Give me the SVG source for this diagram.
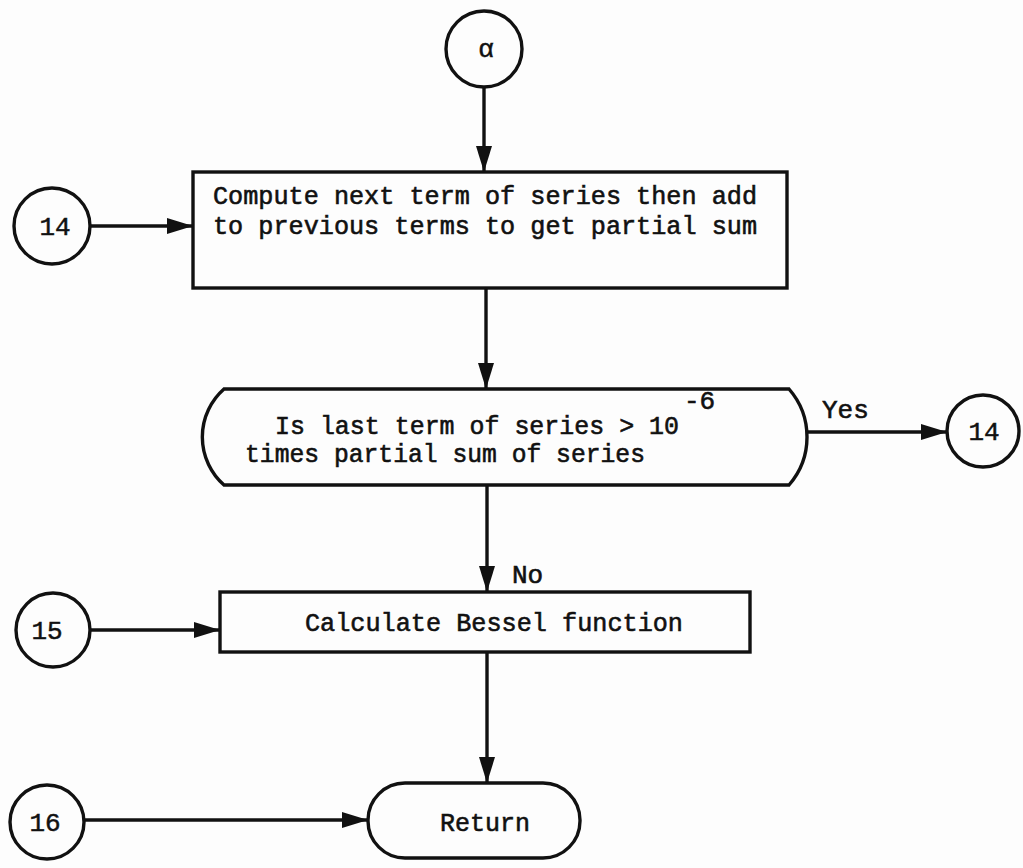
<svg xmlns="http://www.w3.org/2000/svg" width="1023" height="868" viewBox="0 0 1023 868">
  <style>
    .shape { fill: none; stroke: #111; stroke-width: 3.4; }
    .edge { fill: none; stroke: #111; stroke-width: 3.4; }
    .txt { font-family: "Liberation Mono", "DejaVu Sans Mono", monospace; font-size: 26px; fill: #111; stroke: #111; stroke-width: 0.6; }
    .lbl { font-family: "Liberation Mono", "DejaVu Sans Mono", monospace; font-size: 26px; fill: #111; stroke: #111; stroke-width: 0.5; text-anchor: middle; }
  </style>
  <defs>
    <marker id="arrow" markerUnits="userSpaceOnUse" markerWidth="28" markerHeight="20" refX="26" refY="9" orient="auto">
      <path d="M0,1 L26,9 L0,17 Z" fill="#111"/>
    </marker>
  </defs>
  <rect width="1023" height="868" fill="#fdfdfd"/>

  <!-- connectors -->
  <g id="connectors">
    <line class="edge" x1="484" y1="88" x2="484" y2="172" marker-end="url(#arrow)"/>
    <line class="edge" x1="90" y1="226" x2="193" y2="226" marker-end="url(#arrow)"/>
    <line class="edge" x1="486" y1="288" x2="486" y2="389" marker-end="url(#arrow)"/>
    <line class="edge" x1="807" y1="432" x2="947" y2="432" marker-end="url(#arrow)"/>
    <text class="txt" x="822" y="418">Yes</text>
    <line class="edge" x1="487" y1="485" x2="487" y2="592" marker-end="url(#arrow)"/>
    <text class="txt" x="512" y="583">No</text>
    <line class="edge" x1="90" y1="630" x2="220" y2="630" marker-end="url(#arrow)"/>
    <line class="edge" x1="487" y1="652" x2="487" y2="783" marker-end="url(#arrow)"/>
    <line class="edge" x1="85" y1="820" x2="368" y2="820" marker-end="url(#arrow)"/>
  </g>

  <!-- entry connector alpha -->
  <g id="node-alpha">
    <circle class="shape" cx="484" cy="49" r="38"/>
    <text class="lbl" x="486" y="57">α</text>
  </g>

  <!-- compute next term -->
  <g id="node-compute">
    <rect class="shape" x="193" y="172" width="594" height="116"/>
    <text class="txt" x="213" y="204" textLength="544" lengthAdjust="spacingAndGlyphs">Compute next term of series then add</text>
    <text class="txt" x="213" y="234" textLength="544" lengthAdjust="spacingAndGlyphs">to previous terms to get partial sum</text>
  </g>

  <g id="node-14-in">
    <circle class="shape" cx="52" cy="226" r="38"/>
    <text class="lbl" x="55" y="235">14</text>
  </g>

  <!-- convergence test -->
  <g id="node-test">
    <path class="shape" d="M224,389 H789 A73,73 0 0 1 789,485 H224 A64,64 0 0 1 224,389 Z"/>
    <text class="txt" x="275" y="434" textLength="404" lengthAdjust="spacingAndGlyphs">Is last term of series &gt; 10</text>
    <text class="txt" x="684" y="409" font-size="24">-6</text>
    <text class="txt" x="245" y="462" textLength="400" lengthAdjust="spacingAndGlyphs">times partial sum of series</text>
  </g>

  <g id="node-14-out">
    <circle class="shape" cx="983" cy="431" r="36"/>
    <text class="lbl" x="984" y="440">14</text>
  </g>

  <!-- Bessel function -->
  <g id="node-bessel">
    <rect class="shape" x="220" y="592" width="530" height="60"/>
    <text class="txt" x="305" y="631" textLength="378" lengthAdjust="spacingAndGlyphs">Calculate Bessel function</text>
  </g>

  <g id="node-15">
    <circle class="shape" cx="53" cy="630" r="37"/>
    <text class="lbl" x="47" y="639">15</text>
  </g>

  <!-- return -->
  <g id="node-return">
    <rect class="shape" x="368" y="783" width="212" height="75" rx="37" ry="37"/>
    <text class="txt" x="440" y="831" textLength="90" lengthAdjust="spacingAndGlyphs">Return</text>
  </g>

  <g id="node-16">
    <circle class="shape" cx="47" cy="822" r="37"/>
    <text class="lbl" x="45" y="831">16</text>
  </g>
</svg>
